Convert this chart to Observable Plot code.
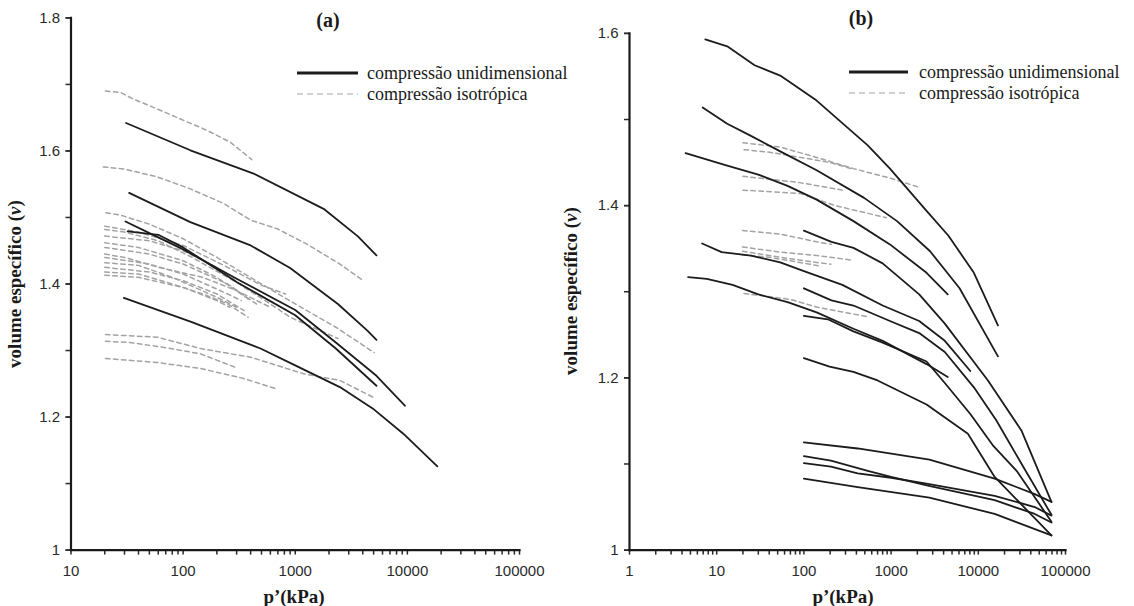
<!DOCTYPE html>
<html><head><meta charset="utf-8">
<script src="https://cdn.jsdelivr.net/npm/d3@7"></script>
<script src="https://cdn.jsdelivr.net/npm/@observablehq/plot@0.6"></script>
<style>
body{margin:0;background:#fff;}
#wrap{position:relative;width:1134px;height:606px;overflow:hidden;font-family:"Liberation Serif","Times New Roman",serif;color:#1a1a1a;}
.panel{position:absolute;top:0;}
.t{position:absolute;transform:translate(-50%,-50%);white-space:nowrap;}
.ttl{font-weight:bold;font-size:20px;}
.xt{font-weight:bold;font-size:19px;}
.yt{font-weight:bold;font-size:19px;transform:translate(-50%,-50%) rotate(-90deg);}
.lg{position:absolute;font-size:18px;white-space:nowrap;transform:translateY(-50%);}
.lgl{position:absolute;}
</style></head>
<body><div id="wrap"></div>
<script>
// ---------- data: panel (a) ----------
const aXTicks = [10, 100, 1000, 10000, 100000];
const aYTicks = [1, 1.2, 1.4, 1.6, 1.8];
const aUni = [
  [[31,1.642],[116,1.601],[425,1.566],[1790,1.513],[3600,1.472],[5300,1.443]],
  [[33,1.537],[116,1.493],[400,1.458],[900,1.424],[2400,1.370],[4400,1.330],[5300,1.316]],
  [[30.6,1.494],[60,1.470],[100,1.452],[300,1.408],[1000,1.361],[2300,1.312],[5300,1.262],[9500,1.217]],
  [[32,1.479],[60,1.474],[100,1.455],[300,1.403],[1000,1.353],[2300,1.303],[5300,1.247]],
  [[29.6,1.379],[118,1.343],[490,1.303],[1020,1.277],[2500,1.245],[4900,1.213],[9200,1.175],[18500,1.126]]
];
const aIso = [
  [[20.3,1.690],[27.6,1.688],[36,1.678],[59,1.663],[101,1.646],[163,1.631],[264,1.613],[410,1.587]],
  [[19.4,1.576],[29.5,1.573],[59,1.561],[116,1.543],[230,1.521],[400,1.496],[690,1.483],[1270,1.460],[2500,1.430],[4050,1.405]],
  [[20.5,1.507],[27,1.504],[50,1.490],[100,1.468],[200,1.440],[500,1.400],[1000,1.370],[2300,1.335],[5050,1.297]],
  [[20,1.487],[40,1.478],[100,1.458],[250,1.425],[500,1.398],[820,1.385]],
  [[20,1.482],[30,1.478],[60,1.465],[120,1.440],[250,1.410],[450,1.385]],
  [[20,1.472],[50,1.465],[100,1.450],[200,1.425],[350,1.395],[600,1.370],[900,1.350],[2400,1.318]],
  [[20,1.462],[40,1.455],[100,1.435],[200,1.410],[400,1.375]],
  [[20,1.455],[50,1.445],[100,1.430],[250,1.400],[450,1.370]],
  [[20,1.445],[30,1.440],[60,1.425],[150,1.410],[300,1.390],[600,1.365]],
  [[20,1.440],[50,1.430],[100,1.415],[250,1.385],[330,1.375]],
  [[20,1.432],[40,1.428],[80,1.410],[200,1.380],[300,1.365]],
  [[20,1.425],[50,1.418],[100,1.405],[200,1.385],[350,1.360]],
  [[20,1.418],[40,1.415],[80,1.400],[150,1.385],[250,1.370],[380,1.350]],
  [[20,1.413],[40,1.410],[100,1.395],[200,1.375],[260,1.365]],
  [[20.3,1.324],[59,1.320],[143,1.303],[400,1.290],[1190,1.265],[2500,1.255],[5050,1.229]],
  [[20.3,1.314],[33.6,1.312],[72,1.304],[143,1.295],[300,1.274]],
  [[20.3,1.288],[59,1.282],[143,1.273],[346,1.258],[690,1.242]]
];
// ---------- data: panel (b) ----------
const bXTicks = [1, 10, 100, 1000, 10000, 100000];
const bYTicks = [1, 1.2, 1.4, 1.6];
const bUni = [
  [[7.4,1.593],[13.2,1.585],[27.2,1.563],[53.5,1.551],[140,1.522],[540,1.470],[970,1.443],[2550,1.394],[4550,1.365],[8900,1.322],[16800,1.261]],
  [[6.9,1.514],[13.2,1.495],[24.7,1.481],[53.5,1.463],[140,1.441],[490,1.409],[1170,1.382],[2800,1.347],[6100,1.304],[16800,1.225]],
  [[4.4,1.461],[12.6,1.447],[30,1.436],[65,1.423],[140,1.407],[370,1.382],[970,1.355],[2550,1.322],[4460,1.297]],
  [[100,1.371],[207,1.358],[370,1.351],[800,1.333],[2100,1.297],[4130,1.263],[12900,1.197],[31200,1.139],[69000,1.056]],
  [[6.8,1.356],[11.4,1.346],[24.7,1.342],[53.5,1.334],[100,1.324],[276,1.308],[800,1.284],[2100,1.266],[4130,1.243],[8100,1.208]],
  [[4.7,1.317],[7.7,1.315],[15.2,1.308],[30,1.297],[65,1.288],[140,1.276],[370,1.257],[800,1.243],[2550,1.216],[4460,1.201]],
  [[100,1.304],[207,1.290],[370,1.284],[970,1.266],[2100,1.252],[4130,1.230],[8900,1.189],[16000,1.151],[31400,1.100],[69000,1.041]],
  [[100,1.272],[188,1.268],[370,1.254],[800,1.241],[2550,1.219],[4130,1.194],[8100,1.158],[14600,1.122],[28000,1.091],[69000,1.033]],
  [[100,1.223],[197,1.213],[370,1.207],[700,1.197],[2550,1.169],[4550,1.151],[7600,1.135],[15400,1.085],[69000,1.017]],
  [[100,1.125],[414,1.118],[2750,1.105],[15400,1.083],[44400,1.065],[69000,1.056]],
  [[100,1.109],[204,1.104],[540,1.092],[1000,1.085],[2640,1.075],[15400,1.058],[44400,1.042],[69000,1.032]],
  [[100,1.101],[204,1.097],[414,1.089],[1000,1.084],[2640,1.077],[15400,1.063],[44400,1.050],[69000,1.040]],
  [[100,1.083],[414,1.073],[2750,1.061],[15400,1.042],[69000,1.017]]
];
const bIso = [
  [[20,1.473],[53.5,1.468],[140,1.456],[370,1.443],[970,1.432],[2000,1.422]],
  [[20.6,1.465],[40,1.462],[92,1.456],[200,1.450],[350,1.443]],
  [[20,1.434],[87,1.427],[276,1.418]],
  [[20,1.418],[92,1.414],[228,1.400],[880,1.386]],
  [[19.8,1.371],[53.5,1.367],[140,1.358],[207,1.355]],
  [[19.8,1.352],[53.5,1.346],[140,1.342],[340,1.337]],
  [[19.8,1.347],[53.5,1.340],[140,1.334],[204,1.332]],
  [[19.8,1.343],[40,1.340],[90,1.334],[150,1.330]],
  [[20.6,1.298],[71,1.291],[143,1.282],[540,1.271]]
];
const titleA = "(a)", titleB = "(b)";
const xTitle = "p\u2019(kPa)";
const yTitle = "volume espec\u00edfico (";
const legendLabels = ["compress\u00e3o unidimensional", "compress\u00e3o isotr\u00f3pica"];

// ---------- helpers ----------
const rows = (curves) => curves.flatMap((c, i) => c.map(([p, v]) => ({p, v, id: i})));
function minorTicks(lo, hi) {
  const out = [];
  for (let e = lo; e < hi; e++) for (let k = 2; k <= 9; k++) out.push(k * 10 ** e);
  return out;
}
function yMinor(lo, hi) { const o = []; for (let v = lo; v <= hi + 1e-9; v += 0.1) o.push(+v.toFixed(1)); return o; }
const fmtY = d => d === 1 ? "1" : d.toFixed(1);

function panel({xDomain, yDomain, xTicks, yTicks, xMinor, uni, iso, margins, width, height}) {
  return Plot.plot({
    width, height,
    marginLeft: margins[0], marginRight: margins[1], marginTop: margins[2], marginBottom: margins[3],
    style: {fontFamily: "'Liberation Sans', Arial, sans-serif", color: "#2a2a2a", background: "transparent"},
    x: {type: "log", domain: xDomain, label: null},
    y: {domain: yDomain, label: null},
    marks: [
      Plot.line(rows(iso), {x: "p", y: "v", z: "id", stroke: "#a3a3a3", strokeWidth: 1.5, strokeDasharray: "4.5,3.5"}),
      Plot.line(rows(uni), {x: "p", y: "v", z: "id", stroke: "#1c1c1c", strokeWidth: 1.8}),
      Plot.axisX({ticks: xMinor, tickFormat: () => "", tickSize: 5, strokeWidth: 1.5, label: null}),
      Plot.axisX({ticks: xTicks, tickFormat: d => d3.format("d")(d), tickSize: 5, tickPadding: 10, strokeWidth: 1.5, fontSize: 15, label: null}),
      Plot.axisY({ticks: yMinor(yDomain[0], yDomain[1]), tickFormat: () => "", tickSize: 5, strokeWidth: 1.5, label: null}),
      Plot.axisY({ticks: yTicks, tickFormat: fmtY, tickSize: 5, tickPadding: 6, strokeWidth: 1.5, fontSize: 15, label: null}),
      Plot.frame({anchor: "left", strokeWidth: 2.2, stroke: "#1a1a1a"}),
      Plot.frame({anchor: "bottom", strokeWidth: 2.2, stroke: "#1a1a1a"})
    ]
  });
}

const wrap = document.getElementById("wrap");
function place(el, left) { el.classList.add("panel"); el.style.left = left + "px"; wrap.appendChild(el); }

const pa = panel({xDomain: [10, 100000], yDomain: [1, 1.8], xTicks: aXTicks, yTicks: aYTicks,
  xMinor: minorTicks(1, 5), uni: aUni, iso: aIso, margins: [70.5, 48, 17.4, 56.4], width: 567, height: 606});
place(pa, 0);
const pb = panel({xDomain: [1, 100000], yDomain: [1, 1.6], xTicks: bXTicks, yTicks: bYTicks,
  xMinor: minorTicks(0, 5), uni: bUni, iso: bIso, margins: [62, 69, 32.9, 56.4], width: 567, height: 606});
place(pb, 567);

function addText(cls, text, x, y, html) {
  const d = document.createElement("div");
  d.className = "t " + cls;
  if (html) d.innerHTML = html; else d.textContent = text;
  d.style.left = x + "px"; d.style.top = y + "px";
  wrap.appendChild(d);
}
addText("ttl", titleA, 328, 20);
addText("ttl", titleB, 861, 18);
addText("xt", xTitle, 294, 597);
addText("xt", xTitle, 843, 597);
const yHtml = yTitle + "<i>v</i>)";
addText("yt", null, 15, 284, yHtml);
addText("yt", null, 571, 291, yHtml);

function legend(x0, x1, yS, yD, tx) {
  const ns = "http://www.w3.org/2000/svg";
  const svg = document.createElementNS(ns, "svg");
  svg.setAttribute("class", "lgl");
  svg.setAttribute("width", x1 - x0); svg.setAttribute("height", 40);
  svg.style.left = x0 + "px"; svg.style.top = (yS - 10) + "px";
  const l1 = document.createElementNS(ns, "line");
  l1.setAttribute("x1", 0); l1.setAttribute("x2", x1 - x0); l1.setAttribute("y1", 10); l1.setAttribute("y2", 10);
  l1.setAttribute("stroke", "#1c1c1c"); l1.setAttribute("stroke-width", 3.2);
  const l2 = document.createElementNS(ns, "line");
  l2.setAttribute("x1", 0); l2.setAttribute("x2", x1 - x0); l2.setAttribute("y1", 10 + yD - yS); l2.setAttribute("y2", 10 + yD - yS);
  l2.setAttribute("stroke", "#a3a3a3"); l2.setAttribute("stroke-width", 1.2); l2.setAttribute("stroke-dasharray", "6,4");
  svg.appendChild(l1); svg.appendChild(l2);
  wrap.appendChild(svg);
  [[legendLabels[0], yS], [legendLabels[1], yD]].forEach(([t, y]) => {
    const d = document.createElement("div");
    d.className = "lg"; d.textContent = t;
    d.style.left = tx + "px"; d.style.top = y + "px";
    wrap.appendChild(d);
  });
}
legend(297, 358, 73, 94, 367);
legend(849, 908, 72, 93, 919);
</script></body></html>
